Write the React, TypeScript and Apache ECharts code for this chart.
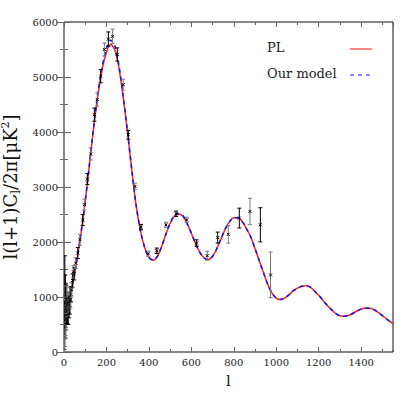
import React, { useEffect, useRef } from "react";
import * as echarts from "echarts";

const ells = [2,5,10,15,20,30,40,50,60,70,80,90,100,110,120,140,160,180,200,220,240,260,280,300,320,340,360,380,400,420,440,460,480,500,520,540,560,580,600,620,640,660,680,700,720,740,760,780,800,820,840,860,880,900,920,940,960,980,1000,1020,1040,1060,1080,1100,1120,1140,1160,1180,1200,1220,1240,1260,1280,1300,1320,1340,1360,1380,1400,1420,1440,1460,1480,1500,1520,1540,1550];

const plValues = [1050,920,850,860,900,1030,1220,1430,1660,1900,2160,2440,2740,3070,3410,4090,4680,5140,5450,5590,5490,5140,4600,3970,3290,2660,2210,1900,1720,1670,1740,1920,2140,2340,2470,2510,2470,2340,2160,1970,1810,1710,1680,1740,1880,2060,2240,2370,2440,2440,2370,2240,2090,1880,1660,1440,1230,1070,980,955,980,1040,1110,1160,1195,1205,1180,1110,1030,940,850,770,700,660,650,665,700,745,780,800,795,770,720,660,600,545,515];

const modelValues = [1050,920,850,860,900,1030,1220,1430,1660,1900,2160,2440,2740,3070,3420,4110,4720,5190,5520,5670,5560,5180,4620,3980,3290,2660,2210,1900,1720,1670,1740,1920,2140,2340,2480,2520,2480,2340,2160,1970,1810,1710,1680,1740,1880,2060,2240,2370,2440,2440,2370,2240,2090,1880,1660,1440,1230,1070,980,955,980,1040,1110,1160,1195,1205,1180,1110,1030,940,850,770,700,660,650,665,700,745,780,800,795,770,720,660,600,545,515];

const dataL = [2,3,4,5,6,7,8,9,10,11,12,14,16,18,20,22,24,26,28,30,33,36,40,44,48,55,65,75,88,96,110,126,143,157,173,190,209,229,251,279,303,334,363,397,437,480,528,578,625,675,724,774,826,876,925,973];
const dataD = [250,700,1000,650,900,750,850,600,900,700,800,950,750,850,700,900,800,1000,850,950,1050,1130,1300,1460,1420,1615,1800,2040,2400,2680,3145,3600,4315,4590,5015,5500,5690,5740,5410,4860,3950,3010,2270,1785,1840,2310,2513,2400,1980,1750,2080,2140,2435,2555,2313,1402];
const dataErr = [200,700,750,550,500,450,400,350,320,300,280,250,230,210,200,190,180,170,160,150,140,130,120,110,110,100,100,100,100,100,100,110,120,120,120,120,130,130,120,100,80,60,50,50,50,50,50,50,60,80,100,160,180,240,310,415];

const xTickLabels = [0,200,400,600,800,1000,1200,1400];
const yTickLabels = [0,1000,2000,3000,4000,5000,6000];

export default function App() {
  const ref = useRef<HTMLDivElement>(null);
  useEffect(() => {
    if (!ref.current) return;
    const chart = echarts.init(ref.current, null, { renderer: "svg" });
    const plData = ells.map((l, i) => [l, plValues[i]]);
    const modelData = ells.map((l, i) => [l, modelValues[i]]);
    const pts = dataL.map((l, i) => [l, dataD[i], dataErr[i]]);
    const tickFont = { fontFamily: "DejaVu Serif", fontSize: 10, color: "#222" };
    const tickLine = { lineStyle: { color: "#666", width: 1 } };
    const baseX = { type: "value", min: 0, max: 1550, axisLine: { show: false }, splitLine: { show: false } };
    const baseY = { type: "value", min: 0, max: 6000, interval: 1000, axisLine: { show: false }, splitLine: { show: false } };
    chart.setOption({
      animation: false,
      backgroundColor: "#fff",
      grid: { left: 64, right: 22, top: 22, bottom: 63, containLabel: false, outerBoundsMode: "none", show: true, borderColor: "#111", borderWidth: 1, backgroundColor: "transparent" },
      xAxis: [
        {
          ...baseX, interval: 200, position: "bottom",
          axisTick: { show: true, inside: true, length: 5, ...tickLine },
          axisLabel: { ...tickFont, margin: 5, showMaxLabel: false, formatter: (v: number) => (xTickLabels.includes(v) ? String(v) : "") },
          name: "l", nameLocation: "middle", nameGap: 21,
          nameTextStyle: { fontFamily: "DejaVu Serif", fontSize: 15, color: "#111" },
        },
        { ...baseX, interval: 100, position: "bottom", axisTick: { show: true, inside: true, length: 3, ...tickLine }, axisLabel: { show: false } },
        { ...baseX, interval: 200, position: "top", axisTick: { show: true, inside: true, length: 5, ...tickLine }, axisLabel: { show: false } },
        { ...baseX, interval: 100, position: "top", axisTick: { show: true, inside: true, length: 3, ...tickLine }, axisLabel: { show: false } },
      ],
      yAxis: [
        {
          ...baseY, position: "left",
          axisTick: { show: true, inside: true, length: 7, ...tickLine },
          minorTick: { show: true, splitNumber: 2, length: 4, lineStyle: { color: "#666" } },
          axisLabel: { ...tickFont, margin: 6, formatter: (v: number) => (yTickLabels.includes(v) ? String(v) : "") },
          name: "l(l+1)C{sub|l}/2π[μK{sup|2}]",
          nameLocation: "middle", nameGap: 30,
          nameTextStyle: {
            fontFamily: "DejaVu Serif", fontSize: 18, color: "#111", lineHeight: 22,
            rich: {
              sub: { fontFamily: "DejaVu Serif", fontSize: 12, verticalAlign: "bottom", lineHeight: 12, color: "#111" },
              sup: { fontFamily: "DejaVu Serif", fontSize: 11, verticalAlign: "top", lineHeight: 12, color: "#111" },
            },
          },
        },
        {
          ...baseY, position: "right",
          axisTick: { show: true, inside: true, length: 7, ...tickLine },
          minorTick: { show: true, splitNumber: 2, length: 4, lineStyle: { color: "#666" } },
          axisLabel: { show: false },
        },
      ],
      series: [
        {
          type: "line", name: "PL", data: plData, showSymbol: false, smooth: 0.3,
          lineStyle: { color: "#ff2020", width: 1.5 }, z: 2, clip: true,
        },
        {
          type: "line", name: "Our model", data: modelData, showSymbol: false, smooth: 0.3,
          lineStyle: { color: "#1010ff", width: 1.5, type: [4, 4] }, z: 3, clip: true,
        },
        {
          type: "custom", name: "data", data: pts, z: 4, clip: true,
          renderItem: (params: any, api: any) => {
            const l = api.value(0), d = api.value(1), e = api.value(2);
            const top = api.coord([l, d + e]);
            const bot = api.coord([l, Math.max(d - e, 0)]);
            const c = api.coord([l, d]);
            const col = params.dataIndex % 2 ? "#777" : "#000";
            const st = { stroke: col, lineWidth: 1 };
            return {
              type: "group",
              children: [
                { type: "line", shape: { x1: top[0], y1: top[1], x2: bot[0], y2: bot[1] }, style: st },
                { type: "line", shape: { x1: top[0] - 2, y1: top[1], x2: top[0] + 2, y2: top[1] }, style: st },
                { type: "line", shape: { x1: bot[0] - 2, y1: bot[1], x2: bot[0] + 2, y2: bot[1] }, style: st },
                { type: "line", shape: { x1: c[0] - 1.5, y1: c[1] - 1.5, x2: c[0] + 1.5, y2: c[1] + 1.5 }, style: { stroke: "#000", lineWidth: 1 } },
                { type: "line", shape: { x1: c[0] - 1.5, y1: c[1] + 1.5, x2: c[0] + 1.5, y2: c[1] - 1.5 }, style: { stroke: "#000", lineWidth: 1 } },
              ],
            };
          },
        },
      ],
      graphic: [
        { type: "text", left: 267, top: 41, style: { text: "PL", fontFamily: "DejaVu Serif", fontSize: 13, fill: "#222" } },
        { type: "line", shape: { x1: 350, y1: 49, x2: 372, y2: 49 }, style: { stroke: "#ff6060", lineWidth: 1.5 } },
        { type: "text", left: 267, top: 67, style: { text: "Our model", fontFamily: "DejaVu Serif", fontSize: 13, fill: "#222" } },
        { type: "line", shape: { x1: 350, y1: 75, x2: 372, y2: 75 }, style: { stroke: "#1010ff", lineWidth: 1.2, lineDash: [4, 4] } },
      ],
    });
    return () => chart.dispose();
  }, []);
  return <div ref={ref} style={{ position: "fixed", left: 0, top: 0, width: 415, height: 415 }} />;
}
